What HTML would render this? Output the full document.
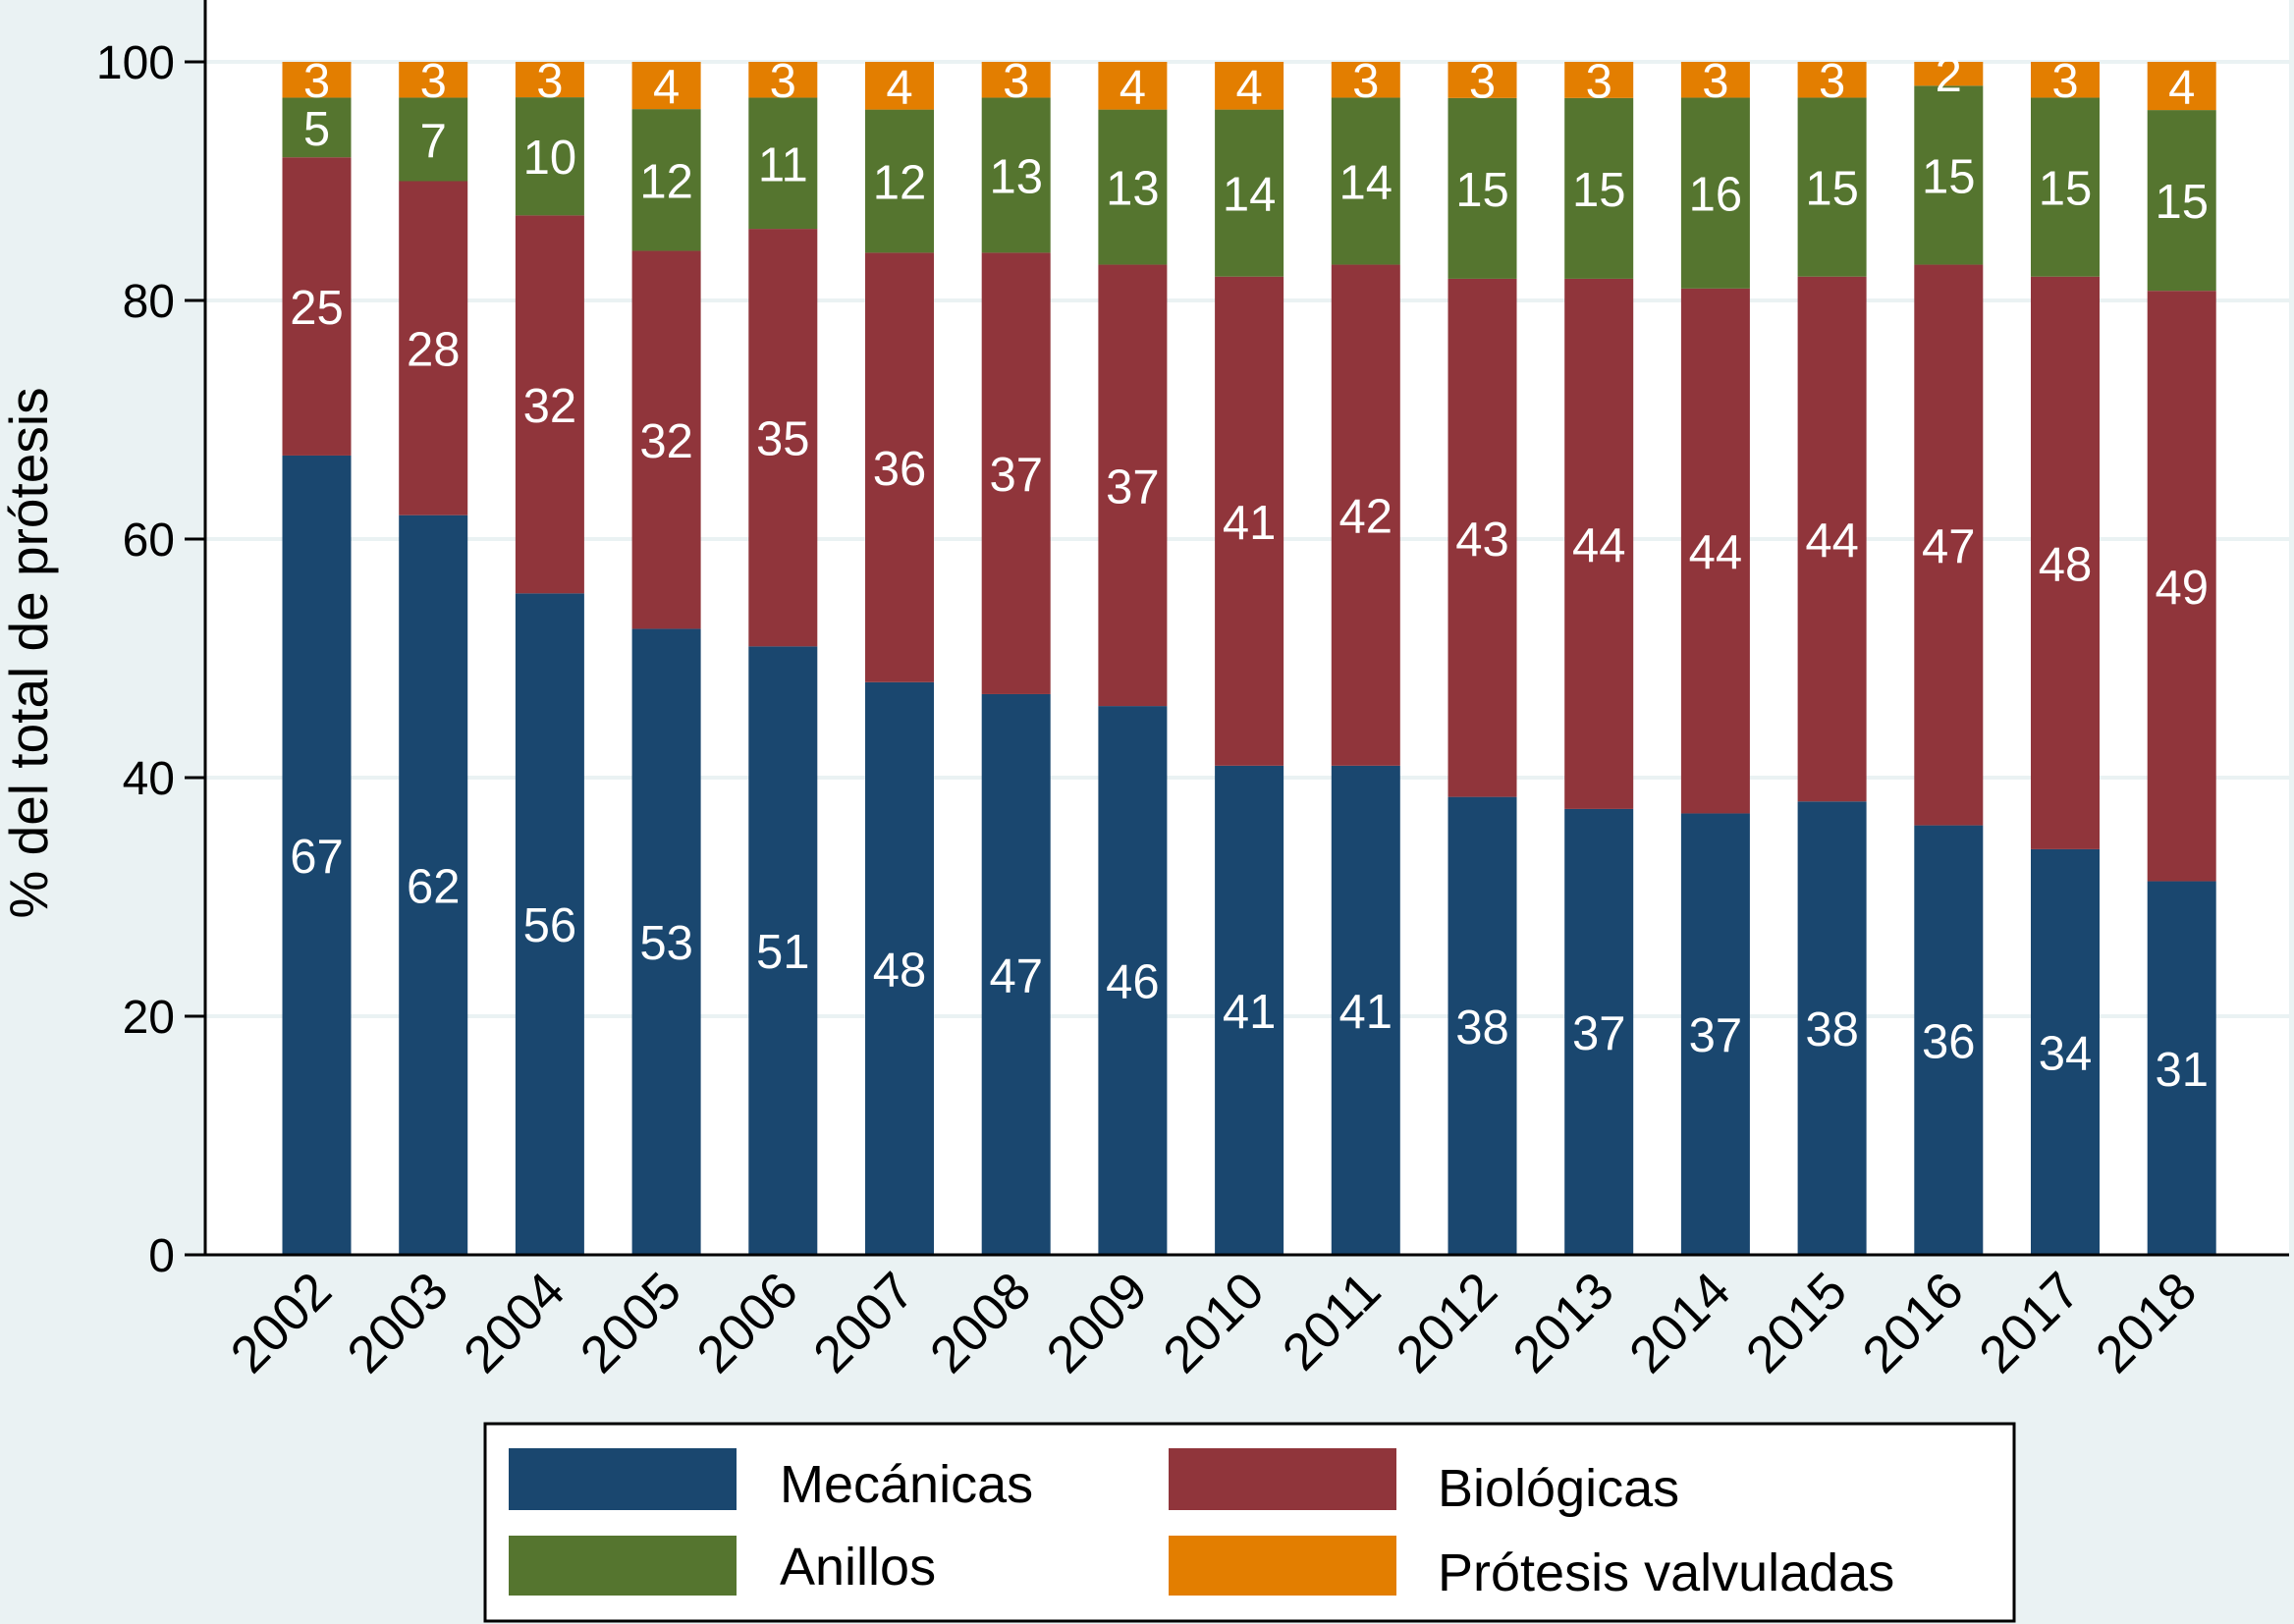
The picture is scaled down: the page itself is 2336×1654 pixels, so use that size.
<!DOCTYPE html>
<html><head><meta charset="utf-8"><style>
html,body{margin:0;padding:0;background:#eaf2f3;}
svg{display:block;font-family:"Liberation Sans",Arial,sans-serif;}
</style></head><body>
<svg id="chart" width="2336" height="1654" viewBox="0 0 2336 1654" xmlns="http://www.w3.org/2000/svg">
<rect x="0" y="0" width="2336" height="1654" fill="#eaf2f3"/>
<rect x="209" y="0" width="2122" height="1278" fill="#ffffff"/>
<g id="grid"></g>
<g id="bars"></g>
<g id="labels"></g>
<g id="axes"></g>
<text transform="translate(48,665) rotate(-90)" text-anchor="middle" font-size="55" fill="#000">% del total de prótesis</text>
<g>
<rect x="494" y="1450" width="1557" height="201" fill="#fff" stroke="#000" stroke-width="3"/>
<rect x="518" y="1475" width="232" height="63" fill="#1a476f"/>
<text x="794" y="1530" font-size="54">Mecánicas</text>
<rect x="518" y="1564" width="232" height="61" fill="#55752f"/>
<text x="794" y="1614" font-size="54">Anillos</text>
<rect x="1190" y="1475" width="232" height="63" fill="#90353b"/>
<text x="1464" y="1534" font-size="54">Biológicas</text>
<rect x="1190" y="1564" width="232" height="61" fill="#e37e00"/>
<text x="1464" y="1620" font-size="54">Prótesis valvuladas</text>
</g>
</svg>
<script>
const years = ["2002","2003","2004","2005","2006","2007","2008","2009","2010","2011","2012","2013","2014","2015","2016","2017","2018"];
const mecanicas = [67,62,56,53,51,48,47,46,41,41,38,37,37,38,36,34,31];
const biologicas = [25,28,32,32,35,36,37,37,41,42,43,44,44,44,47,48,49];
const anillos = [5,7,10,12,11,12,13,13,14,14,15,15,16,15,15,15,15];
const protesis = [3,3,3,4,3,4,3,4,4,3,3,3,3,3,2,3,4];
const yTicks = [0,20,40,60,80,100];

const NS = "http://www.w3.org/2000/svg";
const y0 = 1278, pxPerUnit = 12.15;
const firstCenter = 322.5, pitch = 118.7, barW = 70;
function yScale(v){ return y0 - v * pxPerUnit; }
function xScale(i){ return firstCenter + i * pitch; }
function mk(tag, attrs, parent){ const e = document.createElementNS(NS, tag); for (const k in attrs) e.setAttribute(k, attrs[k]); parent.appendChild(e); return e; }

const grid = document.getElementById('grid');
const axes = document.getElementById('axes');
const barsG = document.getElementById('bars');
const labelsG = document.getElementById('labels');

yTicks.forEach(t => {
  if (t > 0) {
    const g = mk('line', {x1: 209, x2: 2331, y1: yScale(t), y2: yScale(t), stroke: '#eaf2f3', 'stroke-width': 4}, grid);
    
    
  }
  const tk = mk('line', {x1: 188, x2: 209, y1: yScale(t), y2: yScale(t), stroke: '#000', 'stroke-width': 3}, axes);
  
  
  const lb = mk('text', {x: 178, y: yScale(t) + 17, 'text-anchor': 'end', 'font-size': 48, fill: '#000'}, axes);
  lb.textContent = t;
  
  
});
const ya = mk('line', {x1: 209, x2: 209, y1: 0, y2: y0 + 1, stroke: '#000', 'stroke-width': 3}, axes);


const xa = mk('line', {x1: 207, x2: 2331, y1: y0, y2: y0, stroke: '#000', 'stroke-width': 3}, axes);



const series = [
  {name: 'mecanicas', vals: mecanicas, color: '#1a476f'},
  {name: 'biologicas', vals: biologicas, color: '#90353b'},
  {name: 'anillos', vals: anillos, color: '#55752f'},
  {name: 'protesis', vals: protesis, color: '#e37e00'}
];

years.forEach((yr, i) => {
  const total = series.reduce((s, se) => s + se.vals[i], 0);
  let cum = 0;
  const cx = xScale(i);
  series.forEach(se => {
    const v = se.vals[i] / total * 100;
    const top = yScale(cum + v), bot = yScale(cum);
    const r = mk('rect', {x: cx - barW / 2, y: top, width: barW, height: bot - top, fill: se.color}, barsG);
    
    
    const t = mk('text', {x: cx, y: (top + bot) / 2 + 18, 'text-anchor': 'middle', 'font-size': 49, fill: '#fff'}, labelsG);
    t.textContent = se.vals[i];
    
    
    cum += v;
  });
  const xl = mk('text', {x: 0, y: 0, 'text-anchor': 'end', 'font-size': 53, fill: '#000', transform: 'translate(' + (cx + 18) + ',1318) rotate(-45)'}, axes);
  xl.textContent = yr;
  
  
});
</script>
</body></html>
